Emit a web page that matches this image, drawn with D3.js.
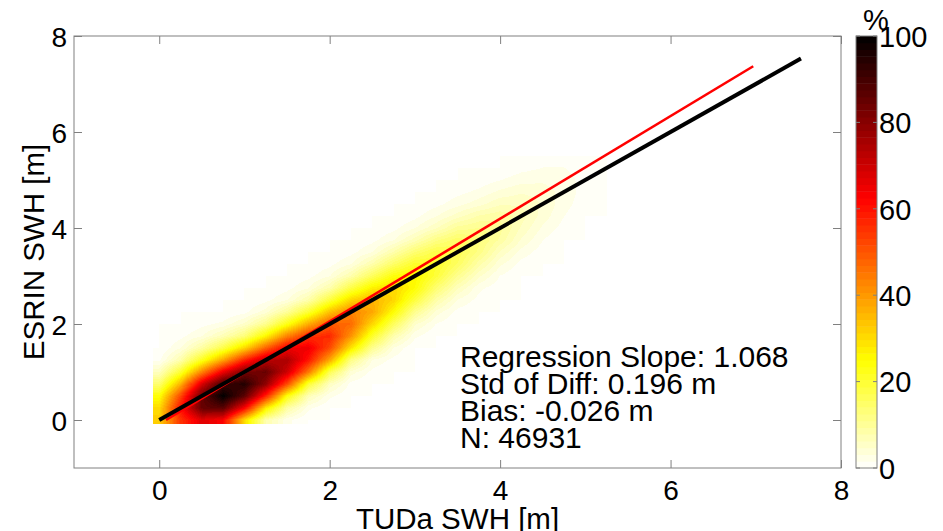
<!DOCTYPE html>
<html><head><meta charset="utf-8">
<script src="https://cdn.jsdelivr.net/npm/d3@7"></script>
<style>
html,body{margin:0;padding:0;background:#fff;}
svg{display:block;font-family:"Liberation Sans",Arial,Helvetica,sans-serif;}
</style>
</head><body>
<svg id="chart" width="943" height="531"></svg>
<script>
// ---------------- data ----------------
const xTicks = [0, 2, 4, 6, 8];
const yTicks = [0, 2, 4, 6, 8];
const cbTicks = [0, 20, 40, 60, 80, 100];
const xLabel = "TUDa SWH [m]";
const yLabel = "ESRIN SWH [m]";
const cbUnit = "%";
const statLines = ["Regression Slope: 1.068", "Std of Diff: 0.196 m", "Bias: -0.026 m", "N: 46931"];

// 1:1 reference line (black) and regression line (red)
const oneToOneX = [0, 7.53];
const oneToOneY = [0, 7.53];
const regressionX = [0.08, 6.97];
const regressionY = [0.0, 7.37];

// density grid (% of max); node coordinates in metres
const gridX = [0, 0.25, 0.5, 0.75, 1, 1.25, 1.5, 1.75, 2, 2.25, 2.5, 2.75, 3, 3.25, 3.5, 3.75, 4, 4.25, 4.5, 4.75, 5, 5.25];
const gridY = [0, 0.25, 0.5, 0.75, 1, 1.25, 1.5, 1.75, 2, 2.25, 2.5, 2.75, 3, 3.25, 3.5, 3.75, 4, 4.25, 4.5, 4.75, 5, 5.25, 5.5];
const heatEdgeMin = -0.075;
// rows: one per gridY value (bottom to top); columns: gridX
const density = [
  [32,55,67,63,30,8,2,0,0,0,0,0,0,0,0,0,0,0,0,0,0,0],
  [30,60,85,87,63,28,9,2,0,0,0,0,0,0,0,0,0,0,0,0,0,0],
  [24,52,85,100,87,58,24,7,2,0,0,0,0,0,0,0,0,0,0,0,0,0],
  [14,36,68,91,95,79,52,20,6,1,0,0,0,0,0,0,0,0,0,0,0,0],
  [6,20,43,65,82,85,70,45,17,4,1,0,0,0,0,0,0,0,0,0,0,0],
  [1,8,22,38,57,72,75,60,38,12,3,1,0,0,0,0,0,0,0,0,0,0],
  [0,3,9,18,31,48,64,65,52,29,11,3,0,0,0,0,0,0,0,0,0,0],
  [0,1,3,7,13,26,43,55,57,41,21,8,2,0,0,0,0,0,0,0,0,0],
  [0,0,1,2,5,11,23,37,49,47,31,16,5,1.5,0,0,0,0,0,0,0,0],
  [0,0,0,0,1,4,10,20,34,43,38,25,11,4,1,0,0,0,0,0,0,0],
  [0,0,0,0,0,1,3,8,19,31,36,31,19,8.5,3,1,0,0,0,0,0,0],
  [0,0,0,0,0,0,1,3,8,18,27,31,25,14,6.5,2,0.5,0,0,0,0,0],
  [0,0,0,0,0,0,0,1,3,8,16,24,26,19.5,11,5,1.5,0,0,0,0,0],
  [0,0,0,0,0,0,0,0,1,3,8,15,21,21,15.5,8.5,3.5,1,0,0,0,0],
  [0,0,0,0,0,0,0,0,0,1,3,8,14,18,17,12,6,2.5,0.7,0,0,0],
  [0,0,0,0,0,0,0,0,0,0,1,3,7,12,15,13,9,4.5,1.6,0,0,0],
  [0,0,0,0,0,0,0,0,0,0,0,1,3,6,10,11,10,6,2.8,0.9,0,0],
  [0,0,0,0,0,0,0,0,0,0,0,0,1,3,5.5,8,9,7,4,1.6,0,0],
  [0,0,0,0,0,0,0,0,0,0,0,0,0,1,2.5,4,6,6,4.5,2.2,0.6,0],
  [0,0,0,0,0,0,0,0,0,0,0,0,0,0,1,2,3.5,4.5,4,2.5,0.9,0],
  [0,0,0,0,0,0,0,0,0,0,0,0,0,0,0,0.5,1.5,2.5,2.8,2.2,1,0],
  [0,0,0,0,0,0,0,0,0,0,0,0,0,0,0,0,0,1,1.6,1.6,0.9,0],
  [0,0,0,0,0,0,0,0,0,0,0,0,0,0,0,0,0,0,0.7,0.9,0.6,0]
];

// ---------------- layout ----------------
const W = 943, H = 531;
const plot = {left: 74, right: 841, top: 36, bottom: 468};
const cb = {left: 856, right: 877, top: 36, bottom: 468};
const axisColor = "#808080";
const FONT = 28;

const svg = d3.select("#chart");
const x = d3.scaleLinear().domain([-1, 8]).range([plot.left, plot.right]);
const y = d3.scaleLinear().domain([-1, 8]).range([plot.bottom, plot.top]);

// flipped "hot" colormap, 64 levels
const hotRev = d3.scaleLinear().domain([0, 25, 62.5, 100])
  .range(["#ffffff", "#ffff00", "#ff0000", "#000000"]).interpolate(d3.interpolateRgb).clamp(true);
const NLEV = 64;
function colorOf(v) {
  let k = Math.floor(v / 100 * NLEV);
  k = Math.max(0, Math.min(NLEV - 1, k));
  return hotRev((k + 0.5) / NLEV * 100);
}
const levelRGB = d3.range(NLEV).map(k => d3.rgb(hotRev((k + 0.5) / NLEV * 100)));

// bilinear sampling of the density grid (rendering only)
function sample(xv, yv) {
  const nx = gridX.length, ny = gridY.length;
  const sx = gridX[1] - gridX[0], sy = gridY[1] - gridY[0];
  let fx = (xv - gridX[0]) / sx, fy = (yv - gridY[0]) / sy;
  fx = Math.max(0, Math.min(nx - 1, fx));
  fy = Math.max(0, Math.min(ny - 1, fy));
  const i0 = Math.min(nx - 2, Math.floor(fx)), j0 = Math.min(ny - 2, Math.floor(fy));
  const tx = fx - i0, ty = fy - j0;
  const a = density[j0][i0], b = density[j0][i0 + 1], c = density[j0 + 1][i0], d = density[j0 + 1][i0 + 1];
  return (a * (1 - tx) + b * tx) * (1 - ty) + (c * (1 - tx) + d * tx) * ty;
}

// clip
svg.append("defs").append("clipPath").attr("id", "plotclip")
  .append("rect").attr("x", plot.left).attr("y", plot.top)
  .attr("width", plot.right - plot.left).attr("height", plot.bottom - plot.top);

// ---------------- heatmap ----------------
const hx0 = Math.round(x(heatEdgeMin)), hx1 = Math.round(x(gridX[gridX.length - 1]));
const hy0 = Math.round(y(gridY[gridY.length - 1])), hy1 = Math.round(y(heatEdgeMin));
const cw = hx1 - hx0, ch = hy1 - hy0;
const canvas = document.createElement("canvas");
canvas.width = cw; canvas.height = ch;
const ctx = canvas.getContext("2d");
const img = ctx.createImageData(cw, ch);
for (let py = 0; py < ch; py++) {
  const yv = y.invert(hy0 + py + 0.5);
  for (let px = 0; px < cw; px++) {
    const xv = x.invert(hx0 + px + 0.5);
    const v = sample(xv, yv);
    let k = Math.floor(v / 100 * NLEV);
    k = Math.max(0, Math.min(NLEV - 1, k));
    const col = v <= 0 ? {r: 255, g: 255, b: 255} : levelRGB[k];
    const o = (py * cw + px) * 4;
    img.data[o] = col.r; img.data[o + 1] = col.g; img.data[o + 2] = col.b; img.data[o + 3] = 255;
  }
}
ctx.putImageData(img, 0, 0);
svg.append("g").attr("clip-path", "url(#plotclip)")
  .append("image").attr("x", hx0).attr("y", hy0).attr("width", cw).attr("height", ch)
  .attr("preserveAspectRatio", "none")
  .attr("href", canvas.toDataURL());

// ---------------- lines ----------------
const lineGen = d3.line().x(d => x(d[0])).y(d => y(d[1]));
const gLines = svg.append("g").attr("clip-path", "url(#plotclip)");
gLines.append("path").datum(d3.zip(regressionX, regressionY))
  .attr("d", lineGen).attr("fill", "none").attr("stroke", "#ff0000").attr("stroke-width", 2.6);
gLines.append("path").datum(d3.zip(oneToOneX, oneToOneY))
  .attr("d", lineGen).attr("fill", "none").attr("stroke", "#000000").attr("stroke-width", 4);

// ---------------- axes ----------------
function styleAxis(g, showText) {
  g.select(".domain").remove();
  g.selectAll(".tick line").attr("stroke", axisColor).attr("stroke-width", 1);
  g.selectAll(".tick text").attr("fill", "#000").style("font-size", FONT + "px")
    .style("font-family", '"Liberation Sans",Arial,sans-serif');
  if (!showText) g.selectAll(".tick text").remove();
}
const gx = svg.append("g").attr("transform", `translate(0,${plot.bottom})`)
  .call(d3.axisBottom(x).tickValues(xTicks).tickSize(-8).tickPadding(12).tickFormat(d3.format("d")));
styleAxis(gx, true);
const gxt = svg.append("g").attr("transform", `translate(0,${plot.top})`)
  .call(d3.axisTop(x).tickValues(xTicks).tickSize(-8));
styleAxis(gxt, false);
const gy = svg.append("g").attr("transform", `translate(${plot.left},0)`)
  .call(d3.axisLeft(y).tickValues(yTicks).tickSize(-8).tickPadding(7).tickFormat(d3.format("d")));
styleAxis(gy, true);
gy.selectAll(".tick text").attr("dy", "0.37em");
const gyr = svg.append("g").attr("transform", `translate(${plot.right},0)`)
  .call(d3.axisRight(y).tickValues(yTicks).tickSize(-8));
styleAxis(gyr, false);

// box
svg.append("rect").attr("x", plot.left).attr("y", plot.top)
  .attr("width", plot.right - plot.left).attr("height", plot.bottom - plot.top)
  .attr("fill", "none").attr("stroke", axisColor).attr("stroke-width", 1);

// axis labels
svg.append("text").attr("x", (plot.left + plot.right) / 2).attr("y", 529)
  .attr("text-anchor", "middle").style("font-size", "29.5px").text(xLabel);
svg.append("text").attr("transform", `translate(43.5,${(plot.top + plot.bottom) / 2}) rotate(-90)`)
  .attr("text-anchor", "middle").style("font-size", "29.5px").text(yLabel);

// stats text
svg.append("g").selectAll("text").data(statLines).join("text")
  .attr("x", 460).attr("y", (d, i) => 366.5 + i * 27.2)
  .style("font-size", "30px").attr("fill", "#000").text(d => d);

// ---------------- colorbar ----------------
const cbScale = d3.scaleLinear().domain([0, 100]).range([cb.bottom, cb.top]);
const levels = d3.range(NLEV);
svg.append("g").selectAll("rect").data(levels).join("rect")
  .attr("x", cb.left).attr("width", cb.right - cb.left)
  .attr("y", k => cbScale((k + 1) / NLEV * 100))
  .attr("height", k => cbScale(k / NLEV * 100) - cbScale((k + 1) / NLEV * 100) + 0.5)
  .attr("fill", k => colorOf((k + 0.5) / NLEV * 100));
svg.append("rect").attr("x", cb.left).attr("y", cb.top)
  .attr("width", cb.right - cb.left).attr("height", cb.bottom - cb.top)
  .attr("fill", "none").attr("stroke", axisColor).attr("stroke-width", 1);
const gcb = svg.append("g");
gcb.selectAll("line.l").data(cbTicks).join("line").attr("class", "l")
  .attr("x1", cb.left).attr("x2", cb.left + 4).attr("y1", d => cbScale(d)).attr("y2", d => cbScale(d))
  .attr("stroke", axisColor);
gcb.selectAll("line.r").data(cbTicks).join("line").attr("class", "r")
  .attr("x1", cb.right - 4).attr("x2", cb.right).attr("y1", d => cbScale(d)).attr("y2", d => cbScale(d))
  .attr("stroke", axisColor);
gcb.selectAll("text").data(cbTicks).join("text")
  .attr("x", cb.right + 2).attr("y", d => cbScale(d)).attr("dy", "0.37em")
  .style("font-size", "29px").text(d => d);
svg.append("text").attr("x", 876).attr("y", 30).attr("text-anchor", "middle")
  .style("font-size", "29px").text(cbUnit);
</script>
</body></html>
